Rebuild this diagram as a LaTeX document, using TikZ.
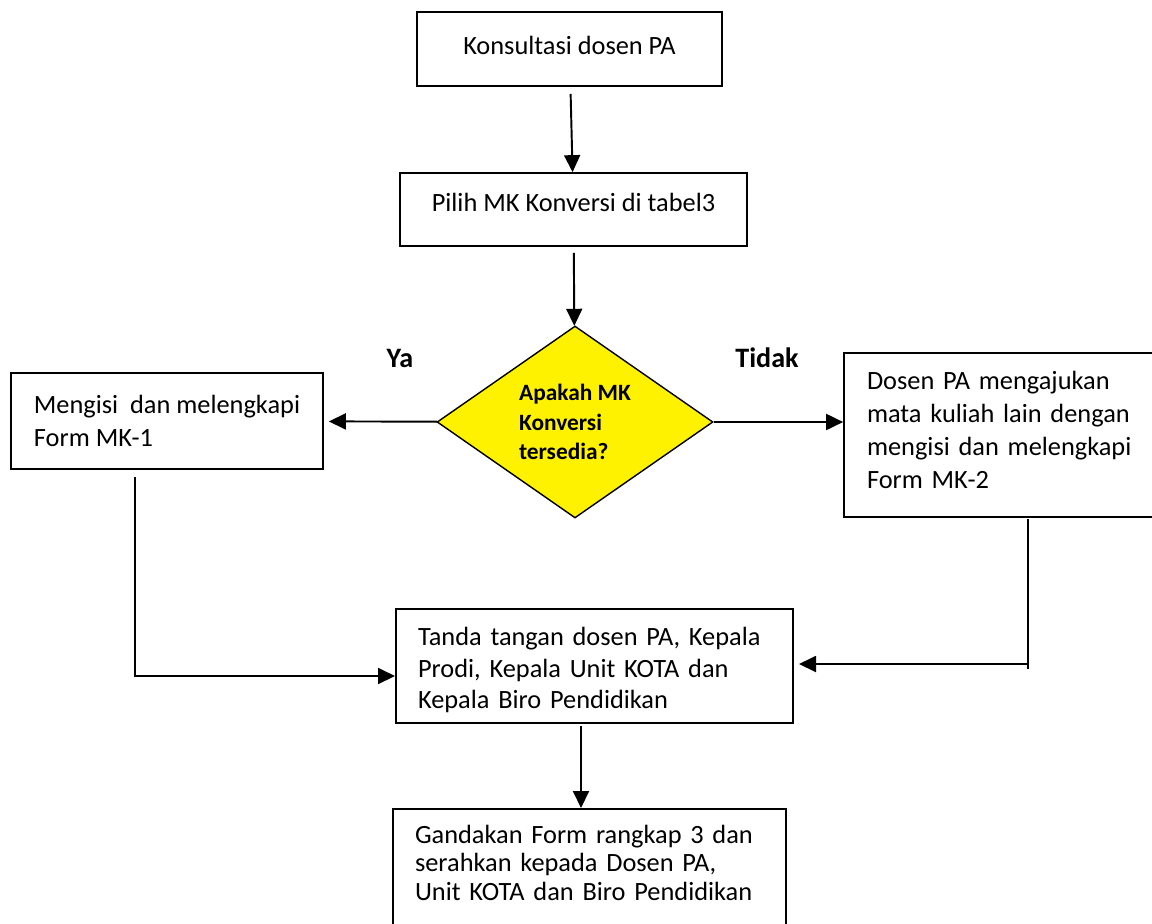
\documentclass[tikz,border=0pt]{standalone}
\usepackage{fontspec}
\setmainfont{Carlito}
\usetikzlibrary{shapes.geometric,arrows.meta}
\begin{document}
\begin{tikzpicture}[x=0.02cm,y=-0.02cm,line width=1.1pt,>={Triangle[length=0.34cm,width=0.32cm]}]
		\tikzstyle{box}=[draw,line width=1pt,inner xsep=0.44cm,align=left,font=\fontsize{15pt}{18.3pt}\selectfont]
		\tikzstyle{lbl}=[font=\bfseries\fontsize{16pt}{19pt}\selectfont]
		\useasboundingbox (0,0) rectangle (1152,923);

		\node[box,align=center,minimum width=6.1cm,minimum height=1.48cm,text depth=0.16cm](k) at (569.5,49){Konsultasi dosen PA};
		\node[box,align=center,minimum width=6.94cm,minimum height=1.46cm,text depth=0.28cm](p) at (573.5,209.5){Pilih MK Konversi di tabel3};
		\node[draw,diamond,fill=yellow,aspect=1.4375,minimum width=5.52cm,minimum height=3.84cm,inner sep=0pt,line width=0.8pt,align=left,font=\bfseries\fontsize{13.3pt}{16.6pt}\selectfont](d) at (575,422){Apakah MK\\Konversi\\tersedia?};
		\node[box,minimum width=6.24cm,minimum height=1.92cm](m1) at (167,421){Mengisi\ \ dan melengkapi\\Form MK-1};
		\node[box,text width=5.4cm,minimum width=6.32cm,minimum height=3.28cm,text depth=2.18cm,font=\fontsize{15pt}{18.8pt}\selectfont](m2) at (1002,435){Dosen PA mengajukan\\mata kuliah lain dengan\\mengisi dan melengkapi\\Form MK-2};
		\node[box,text width=7.06cm,minimum width=7.94cm,minimum height=2.28cm,text height=0.53cm,font=\fontsize{15pt}{17.9pt}\selectfont](t) at (594.5,666){Tanda tangan dosen PA, Kepala\\Prodi, Kepala Unit KOTA dan\\Kepala Biro Pendidikan};
		\node[box,anchor=north,text width=6.98cm,minimum width=7.82cm,inner ysep=0.32cm,text depth=2.5cm,font=\fontsize{15pt}{16.3pt}\selectfont](g) at (589.5,808){Gandakan Form rangkap 3 dan\\serahkan kepada Dosen PA,\\Unit KOTA dan Biro Pendidikan};

		\node[lbl](ya) at (400,358){Ya};
		\node[lbl](tidak) at (767,358){Tidak};

		\coordinate (l1) at (135,477);
		\coordinate (l2) at (395,676);
		\coordinate (r1) at (1028,519);
		\coordinate (r2) at (1028,669);
		\coordinate (r3) at (799,664);
		\coordinate (b1) at (581,726);

		\draw[->,shorten <=0.14cm] (k) -- (p);
		\draw[->,shorten <=0.12cm] (p) -- (d);
		\draw[->,shorten >=0.1cm] (d) -- (m1);
		\draw[->] (d.east) -- (d.east -| m2.west);
		\draw[->] (l1) |- (l2);
		\draw (r1) -- (r2);
		\draw[->] (r3 -| r1) -- (r3);
		\draw[->] (b1) -- (b1 |- g.north);
	\end{tikzpicture}
\end{document}
